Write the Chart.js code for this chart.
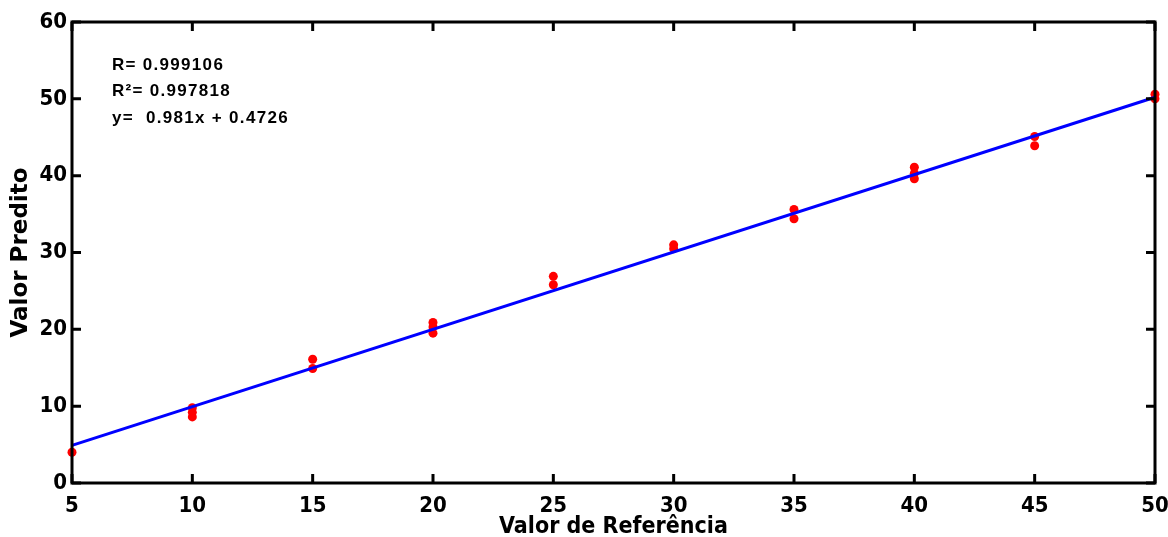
<!DOCTYPE html>
<html>
<head>
<meta charset="utf-8">
<script src="https://cdn.jsdelivr.net/npm/chart.js@4/dist/chart.umd.min.js"></script>
<style>
  html, body { margin: 0; padding: 0; background: #fff; }
  #wrap { width: 1168px; height: 537px; }
</style>
</head>
<body>
<div id="wrap"><canvas id="chart" width="1168" height="537"></canvas></div>
<script>
// Data
const refX = [5, 10, 10, 10, 15, 15, 20, 20, 20, 25, 25, 30, 30, 35, 35, 40, 40, 40, 45, 45, 50, 50];
const predY = [4.0, 9.8, 9.2, 8.6, 16.1, 14.9, 20.9, 20.3, 19.5, 26.9, 25.8, 31.0, 30.5, 35.6, 34.4, 41.1, 40.3, 39.6, 45.1, 43.9, 50.6, 50.0];
const fitX = [5, 50];
const fitY = [4.9, 50.2];
const xTicks = [5, 10, 15, 20, 25, 30, 35, 40, 45, 50];
const yTicks = [0, 10, 20, 30, 40, 50, 60];
const statsText = ['R= 0.999106', 'R\u00B2= 0.997818', 'y=  0.981x + 0.4726'];

const narrowFamily = "'DejaVu Sans Condensed', 'Liberation Sans Narrow', 'Liberation Sans', Arial, sans-serif";

// Box with inward ticks on all four sides, plus the fit stats
const boxPlugin = {
    id: 'boxPlugin',
    afterDatasetsDraw(chart) {
        const ctx = chart.ctx;
        const a = chart.chartArea;
        const xs = chart.scales.x, ys = chart.scales.y;
        ctx.save();
        ctx.strokeStyle = '#000';
        ctx.lineWidth = 3;
        ctx.strokeRect(a.left, a.top, a.right - a.left, a.bottom - a.top);
        const len = 9;
        ctx.beginPath();
        xTicks.forEach(v => {
            const px = xs.getPixelForValue(v);
            ctx.moveTo(px, a.bottom); ctx.lineTo(px, a.bottom - len);
            ctx.moveTo(px, a.top); ctx.lineTo(px, a.top + len);
        });
        yTicks.forEach(v => {
            const py = ys.getPixelForValue(v);
            ctx.moveTo(a.left, py); ctx.lineTo(a.left + len, py);
            ctx.moveTo(a.right, py); ctx.lineTo(a.right - len, py);
        });
        ctx.stroke();

        ctx.fillStyle = '#000';
        ctx.font = "bold 17px 'Liberation Sans', Arial, sans-serif";
        ctx.letterSpacing = '1.3px';
        ctx.textBaseline = 'middle';
        statsText.forEach((t, i) => {
            ctx.fillText(t, 112, 65 + i * 26.5);
        });
        ctx.restore();
    }
};

const ctx = document.getElementById('chart').getContext('2d');
new Chart(ctx, {
    type: 'scatter',
    data: {
        datasets: [
            {
                label: 'Ajuste',
                type: 'line',
                data: fitX.map((x, i) => ({ x: x, y: fitY[i] })),
                borderColor: '#0000ff',
                borderWidth: 3,
                pointRadius: 0,
                fill: false,
                clip: false,
                order: 1
            },
            {
                label: 'Amostras',
                data: refX.map((x, i) => ({ x: x, y: predY[i] })),
                backgroundColor: '#ff0000',
                borderColor: '#ff0000',
                pointRadius: 4.5,
                borderWidth: 0,
                clip: false,
                order: 2
            }
        ]
    },
    options: {
        responsive: false,
        animation: false,
        layout: { padding: { top: 22, right: 0, left: 0, bottom: 0 } },
        plugins: {
            legend: { display: false },
            tooltip: { enabled: false }
        },
        scales: {
            x: {
                type: 'linear',
                min: 5,
                max: 50,
                afterBuildTicks: s => { s.ticks = xTicks.map(v => ({ value: v })); },
                afterFit: s => { s.height = 54; s.paddingRight = 13; s.paddingLeft = 0; },
                grid: { display: false, drawTicks: false },
                border: { display: false },
                ticks: {
                    color: '#000',
                    font: { family: narrowFamily, size: 22, weight: 'bold' },
                    padding: 10,
                    maxRotation: 0
                },
                title: {
                    display: true,
                    text: 'Valor de Refer\u00eancia',
                    color: '#000',
                    font: { family: narrowFamily, size: 23, weight: 'bold', lineHeight: 1 },
                    padding: { top: 0, bottom: -2 }
                }
            },
            y: {
                type: 'linear',
                min: 0,
                max: 60,
                afterBuildTicks: s => { s.ticks = yTicks.map(v => ({ value: v })); },
                afterFit: s => { s.width = 72; },
                grid: { display: false, drawTicks: false },
                border: { display: false },
                ticks: {
                    color: '#000',
                    font: { family: narrowFamily, size: 22, weight: 'bold' },
                    padding: 5
                },
                title: {
                    display: true,
                    text: 'Valor Predito',
                    color: '#000',
                    font: { family: "'DejaVu Sans', 'Liberation Sans', Arial, sans-serif", size: 23, weight: 'bold' },
                    padding: { top: 7, bottom: 0 }
                }
            }
        }
    },
    plugins: [boxPlugin]
});
</script>
</body>
</html>
